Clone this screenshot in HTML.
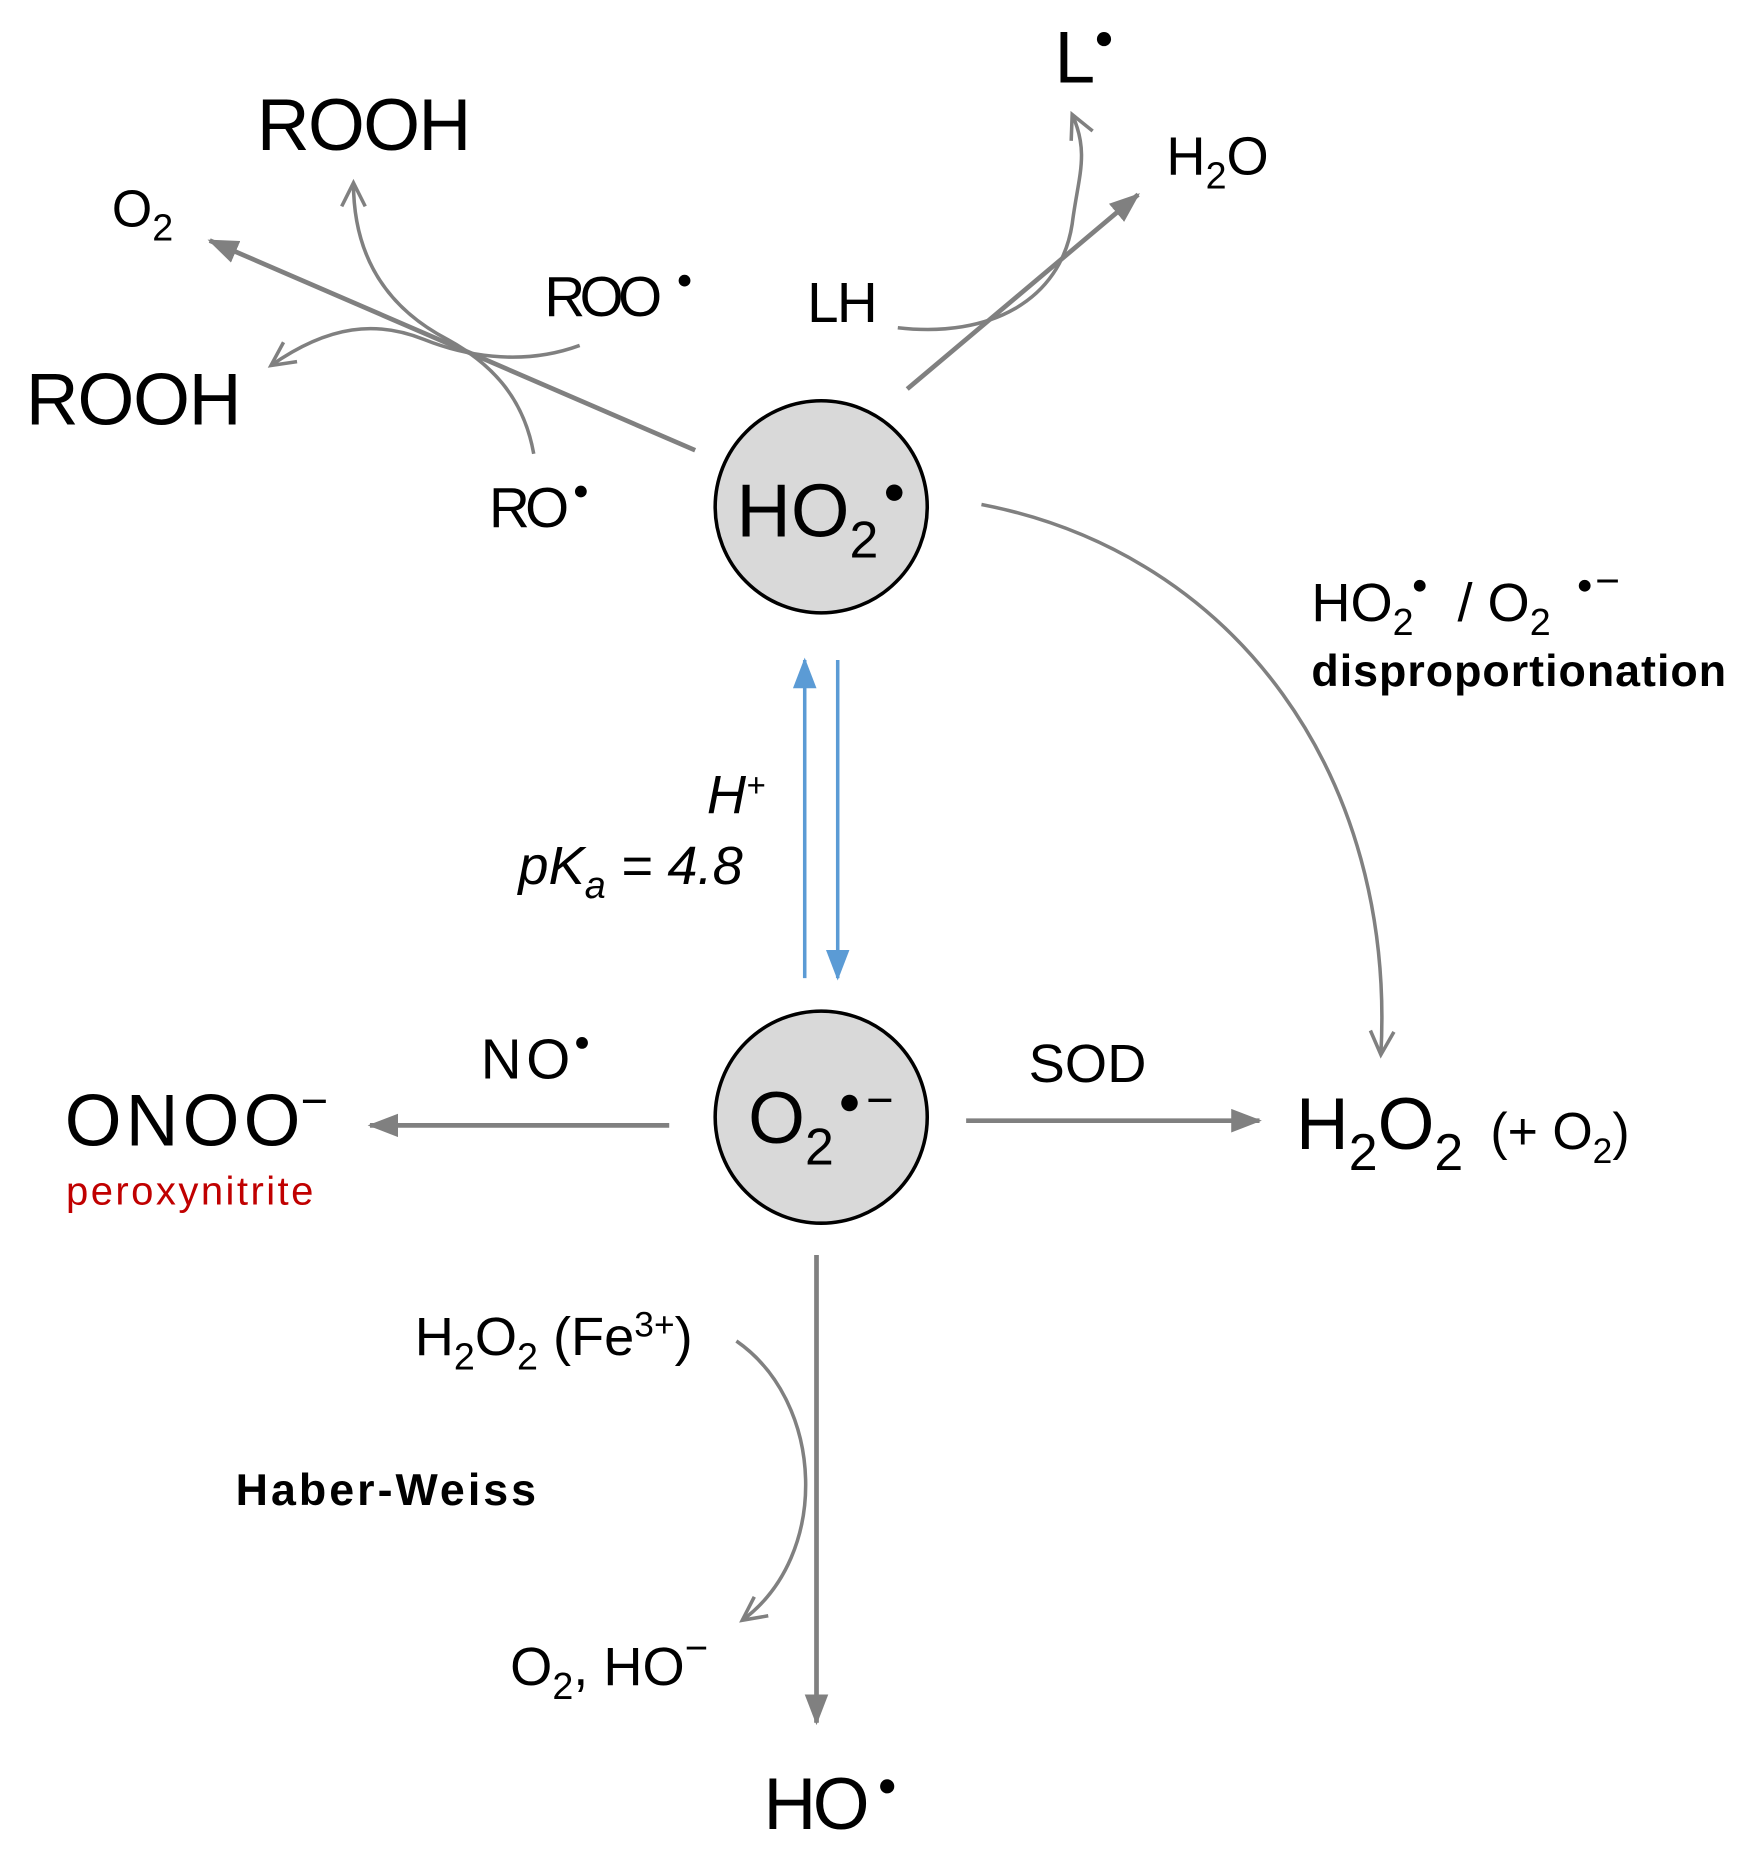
<!DOCTYPE html>
<html><head><meta charset="utf-8"><style>
html,body{margin:0;padding:0;background:#fff;}
svg{display:block;}
text{font-family:"Liberation Sans",sans-serif;fill:#000;}
</style></head><body>
<svg width="1752" height="1849" viewBox="0 0 1487 1569" xmlns="http://www.w3.org/2000/svg">
<defs>
<marker id="f" markerUnits="userSpaceOnUse" markerWidth="30" markerHeight="30" refX="24" refY="10" orient="auto">
<path d="M0,0 L26,10 L0,20 Z" fill="#808080"/></marker>
<marker id="fb" markerUnits="userSpaceOnUse" markerWidth="30" markerHeight="30" refX="24" refY="10" orient="auto">
<path d="M0,0 L26,10 L0,20 Z" fill="#5b9bd5"/></marker>
<marker id="c" markerUnits="userSpaceOnUse" markerWidth="30" markerHeight="30" refX="22" refY="12" orient="auto">
<path d="M2,2 L22,12 L2,22" fill="none" stroke="#808080" stroke-width="3"/></marker>
</defs>
<g fill="none" stroke="#808080">
<line x1="590" y1="382" x2="178" y2="204" stroke-width="4" marker-end="url(#f)"/>
<path d="M492,293 C440,312 390,300 360,288 C320,272 280,275 230,310" stroke-width="3" marker-end="url(#c)"/>
<path d="M453,385 C445,340 420,310 380,288 C330,262 300,220 300,155" stroke-width="3" marker-end="url(#c)"/>
<line x1="770" y1="330" x2="966" y2="165" stroke-width="4" marker-end="url(#f)"/>
<path d="M762,278 C840,287 900,255 910,190 C915,150 925,130 910,97" stroke-width="3" marker-end="url(#c)"/>
<path d="M833,428 C1050,470 1185,660 1172,895" stroke-width="3" marker-end="url(#c)"/>
<line x1="568" y1="955" x2="314" y2="955" stroke-width="4" marker-end="url(#f)"/>
<line x1="820" y1="951" x2="1069" y2="951" stroke-width="4" marker-end="url(#f)"/>
<line x1="693" y1="1065" x2="693" y2="1462" stroke-width="4" marker-end="url(#f)"/>
<path d="M625,1138 C700,1190 705,1320 630,1375" stroke-width="3" marker-end="url(#c)"/>
</g>
<line x1="683" y1="830" x2="683" y2="560" stroke="#5b9bd5" stroke-width="3" marker-end="url(#fb)"/>
<line x1="711" y1="560" x2="711" y2="830" stroke="#5b9bd5" stroke-width="3" marker-end="url(#fb)"/>
<circle cx="697" cy="430" r="90" fill="#d9d9d9" stroke="#000" stroke-width="3"/>
<circle cx="697" cy="948" r="90" fill="#d9d9d9" stroke="#000" stroke-width="3"/>

<text x="218" y="127" font-size="62" textLength="182">ROOH</text>
<text x="22" y="360" font-size="62" textLength="183">ROOH</text>
<text x="95" y="192" font-size="44">O<tspan font-size="32" dy="12">2</tspan></text>
<text x="462" y="268" font-size="48" textLength="100">ROO</text>
<circle cx="581" cy="238" r="5"/>
<text x="415" y="447" font-size="48" textLength="68">RO</text>
<circle cx="493" cy="417" r="5"/>
<text x="685" y="273" font-size="48" textLength="60">LH</text>
<text x="895" y="70" font-size="62" textLength="30">L</text>
<circle cx="937" cy="33" r="6"/>
<text x="990" y="148" font-size="46">H<tspan font-size="32" dy="12">2</tspan><tspan dy="-12">O</tspan></text>
<text x="625" y="455" font-size="64">HO<tspan font-size="44" dy="18">2</tspan></text>
<circle cx="759" cy="418" r="7"/>
<text x="1113" y="527" font-size="46">HO<tspan font-size="32" dy="12">2</tspan></text>
<circle cx="1205" cy="497" r="5"/>
<text x="1237" y="527" font-size="46">/ O<tspan font-size="32" dy="12">2</tspan></text>
<circle cx="1345" cy="497" r="5"/>
<text x="1354" y="505" font-size="36">−</text>
<text x="1113" y="582" font-size="38" font-weight="bold" textLength="352">disproportionation</text>
<text x="600" y="690" font-size="46" font-style="italic">H<tspan font-size="28" dy="-14">+</tspan></text>
<text x="440" y="750" font-size="46" font-style="italic">pK<tspan font-size="32" dy="12">a</tspan><tspan dy="-12"> = 4.8</tspan></text>
<text x="408" y="915" font-size="48" textLength="76">NO</text>
<circle cx="494" cy="885" r="5"/>
<text x="55" y="972" font-size="62" textLength="200">ONOO</text>
<text x="255" y="948" font-size="40">−</text>
<text x="56" y="1022" font-size="34" fill="#c00000" style="fill:#c00000" textLength="210">peroxynitrite</text>
<text x="635" y="970" font-size="62">O<tspan font-size="44" dy="18">2</tspan></text>
<circle cx="721" cy="936" r="7"/>
<text x="735" y="947" font-size="40">−</text>
<text x="873" y="918" font-size="46" textLength="100">SOD</text>
<text x="1100" y="975" font-size="62">H<tspan font-size="44" dy="18">2</tspan><tspan dy="-18">O</tspan><tspan font-size="44" dy="18">2</tspan></text>
<text x="1265" y="975" font-size="44">(+ O<tspan font-size="30" dy="12">2</tspan><tspan dy="-12">)</tspan></text>
<text x="352" y="1150" font-size="46">H<tspan font-size="32" dy="12">2</tspan><tspan dy="-12">O</tspan><tspan font-size="32" dy="12">2</tspan><tspan dy="-12"> (Fe</tspan><tspan font-size="30" dy="-16">3+</tspan><tspan dy="16">)</tspan></text>
<text x="200" y="1277" font-size="38" font-weight="bold" textLength="255">Haber-Weiss</text>
<text x="433" y="1430" font-size="46">O<tspan font-size="32" dy="12">2</tspan><tspan dy="-12">, HO</tspan><tspan font-size="34" dy="-20">−</tspan></text>
<text x="648" y="1552" font-size="62" textLength="90">HO</text>
<circle cx="753" cy="1516" r="6"/>
</svg>
</body></html>
